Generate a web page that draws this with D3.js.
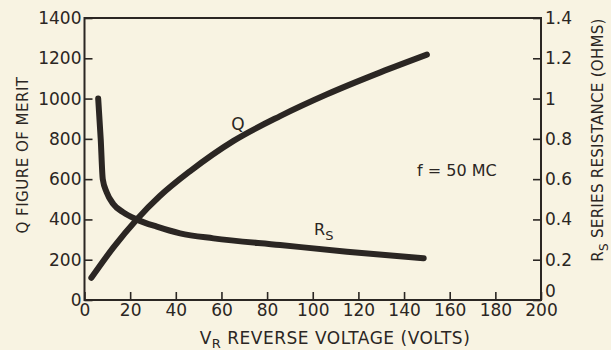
<!DOCTYPE html>
<html>
<head>
<meta charset="utf-8">
<script src="https://cdn.jsdelivr.net/npm/d3@7"></script>
<style>
  body { margin: 0; background: #f8f3e2; }
  svg { display: block; }
  text { font-family: "DejaVu Sans", sans-serif; fill: #2b2623; }
</style>
</head>
<body>
<div id="chart"></div>
<script>
// Q figure of merit vs reverse voltage
const qVolts = [3, 12.6, 22.9, 33, 46.3, 65.3, 85.7, 106, 129.6, 150];
const qValues = [110, 260, 400, 516, 640, 790, 913, 1020, 1130, 1218];

// Rs series resistance vs reverse voltage
const rsVolts = [6, 7.1, 8, 9.7, 12.6, 17, 22.9, 31.7, 41.9, 56.5, 85.7, 115, 148.6];
const rsValues = [1.0, 0.80, 0.60, 0.535, 0.477, 0.435, 0.40, 0.364, 0.331, 0.306, 0.273, 0.24, 0.207];

const xTicks = [0, 20, 40, 60, 80, 100, 120, 140, 160, 180, 200];
const qTicks = [0, 200, 400, 600, 800, 1000, 1200, 1400];
const rsTicks = [0, 0.2, 0.4, 0.6, 0.8, 1.0, 1.2, 1.4];
const rsTickLabels = ["0", "0.2", "0.4", "0.6", "0.8", "1", "1.2", "1.4"];

const width = 611, height = 350;
const plot = { left: 84.5, right: 541, top: 18, bottom: 300 };
const ink = "#2b2623";

const svg = d3.select("#chart").append("svg")
  .attr("width", width)
  .attr("height", height);

const x = d3.scaleLinear().domain([0, 200]).range([plot.left, plot.right]);
const yQ = d3.scaleLinear().domain([0, 1400]).range([plot.bottom, plot.top]);
const yR = d3.scaleLinear().domain([0, 1.4]).range([plot.bottom, plot.top]);

// frame
svg.append("rect")
  .attr("x", plot.left).attr("y", plot.top)
  .attr("width", plot.right - plot.left).attr("height", plot.bottom - plot.top)
  .attr("fill", "none").attr("stroke", ink).attr("stroke-width", 2);

function styleAxis(g) {
  g.select(".domain").remove();
  g.selectAll("line").attr("stroke", ink).attr("stroke-width", 1.6);
  g.selectAll("text").style("font-size", "17px").attr("fill", ink)
    .style("font-family", "'DejaVu Sans', sans-serif");
}

svg.append("g")
  .attr("transform", "translate(" + plot.left + ",0)")
  .call(d3.axisLeft(yQ).tickValues(qTicks).tickFormat(d3.format("d"))
    .tickSizeInner(-8).tickSizeOuter(0).tickPadding(3))
  .call(styleAxis);

svg.append("g")
  .attr("transform", "translate(" + plot.right + ",0)")
  .call(d3.axisRight(yR).tickValues(rsTicks).tickSizeInner(-8).tickSizeOuter(0).tickPadding(4)
    .tickFormat((d, i) => rsTickLabels[i]))
  .call(styleAxis)
  .call(g => g.selectAll(".tick").filter(d => d === 0).select("text").attr("dy", "-0.2em"));

svg.append("g")
  .attr("transform", "translate(0," + plot.bottom + ")")
  .call(d3.axisBottom(x).tickValues(xTicks).tickSizeInner(-8).tickSizeOuter(0).tickPadding(4))
  .call(styleAxis);

// curves
const qLine = d3.line()
  .x((d, i) => x(qVolts[i]))
  .y(d => yQ(d))
  .curve(d3.curveMonotoneX);

const rsLine = d3.line()
  .x((d, i) => x(rsVolts[i]))
  .y(d => yR(d))
  .curve(d3.curveMonotoneX);

svg.append("path")
  .attr("d", qLine(qValues))
  .attr("fill", "none").attr("stroke", ink)
  .attr("stroke-width", 6).attr("stroke-linecap", "round");

svg.append("path")
  .attr("d", rsLine(rsValues))
  .attr("fill", "none").attr("stroke", ink)
  .attr("stroke-width", 6).attr("stroke-linecap", "round");

// curve labels
svg.append("text")
  .attr("x", 238).attr("y", 130)
  .attr("text-anchor", "middle")
  .style("font-size", "17px")
  .text("Q");

const rsLab = svg.append("text")
  .attr("x", 314).attr("y", 235)
  .style("font-size", "16px");
rsLab.append("tspan").text("R");
rsLab.append("tspan").attr("dy", 5).style("font-size", "13px").text("S");

svg.append("text")
  .attr("x", 417).attr("y", 176)
  .style("font-size", "16px")
  .text("f = 50 MC");

// axis titles
const xt = svg.append("text")
  .attr("x", 335).attr("y", 344)
  .attr("text-anchor", "middle")
  .style("font-size", "17px")
  .style("letter-spacing", "0.5px");
xt.append("tspan").text("V");
xt.append("tspan").attr("dy", 4).style("font-size", "13px").text("R");
xt.append("tspan").attr("dy", -4).text(" REVERSE VOLTAGE (VOLTS)");

svg.append("text")
  .attr("transform", "translate(28,155) rotate(-90)")
  .attr("text-anchor", "middle")
  .style("font-size", "15px")
  .style("letter-spacing", "0.5px")
  .text("Q  FIGURE OF MERIT");

const rt = svg.append("text")
  .attr("transform", "translate(603,140) rotate(-90)")
  .attr("text-anchor", "middle")
  .style("font-size", "15px")
  .style("letter-spacing", "0.3px");
rt.append("tspan").text("R");
rt.append("tspan").attr("dy", 5).style("font-size", "12px").text("S");
rt.append("tspan").attr("dy", -5).text(" SERIES RESISTANCE (OHMS)");
</script>
</body>
</html>
